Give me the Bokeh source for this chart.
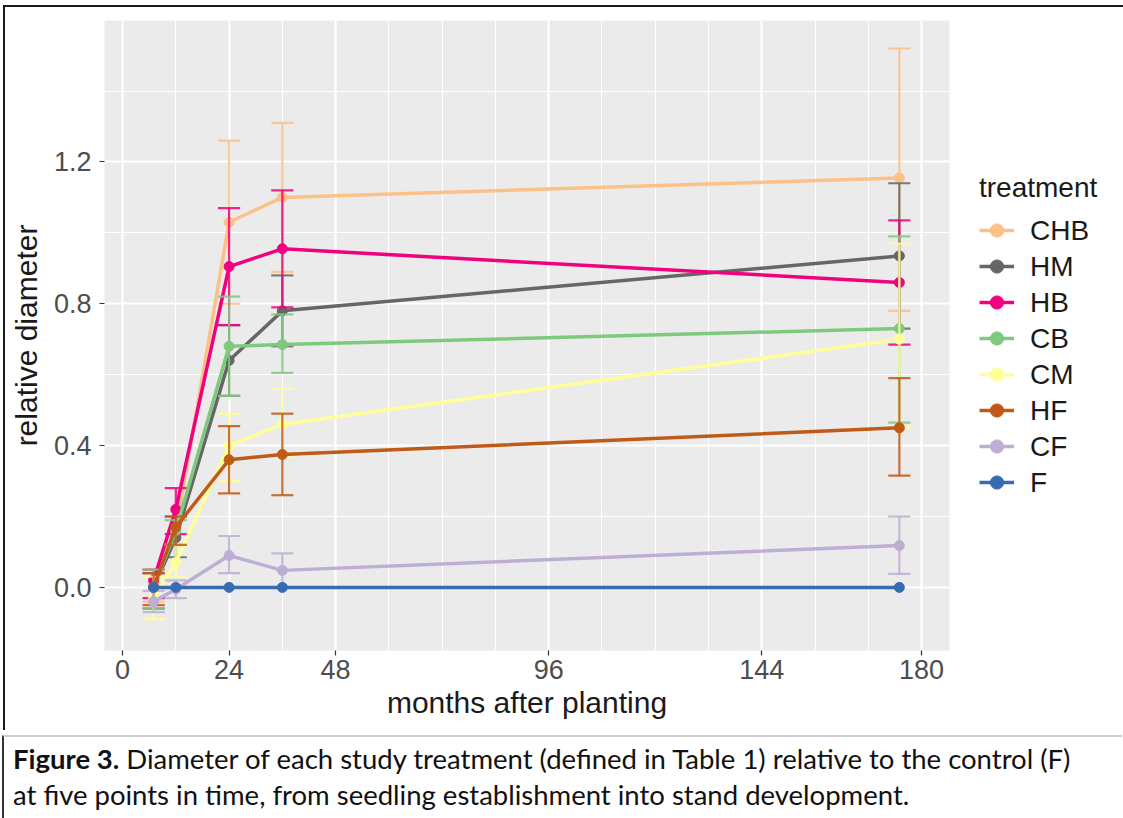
from bokeh.plotting import figure
from bokeh.models import (ColumnDataSource, FixedTicker, Legend, LegendItem, Div, Range1d)
from bokeh.layouts import column
from bokeh.embed import file_html
from bokeh.resources import INLINE

# ---------------- data ----------------
months = [7, 12, 24, 36, 175]
treatments = ["CHB", "HM", "HB", "CB", "CM", "HF", "CF", "F"]
colors = ["#FDC086", "#666666", "#F0027F", "#7FC97F", "#FFFF99", "#BF5B17", "#BEAED4", "#386CB0"]

CHB_mean = [0.01, 0.16, 1.03, 1.10, 1.155]
CHB_lo = [-0.04, 0.12, 0.80, 0.89, 0.78]
CHB_hi = [0.04, 0.20, 1.26, 1.31, 1.52]

HM_mean = [0.00, 0.14, 0.64, 0.78, 0.935]
HM_lo = [-0.06, 0.085, 0.54, 0.68, 0.73]
HM_hi = [0.04, 0.20, 0.74, 0.88, 1.14]

HB_mean = [0.02, 0.22, 0.905, 0.955, 0.86]
HB_lo = [-0.03, 0.15, 0.74, 0.79, 0.685]
HB_hi = [0.05, 0.28, 1.07, 1.12, 1.035]

CB_mean = [0.00, 0.16, 0.68, 0.685, 0.73]
CB_lo = [-0.06, 0.12, 0.54, 0.605, 0.465]
CB_hi = [0.05, 0.19, 0.82, 0.77, 0.99]

CM_mean = [-0.03, 0.07, 0.40, 0.46, 0.70]
CM_lo = [-0.09, 0.03, 0.30, 0.37, 0.45]
CM_hi = [0.03, 0.12, 0.49, 0.56, 0.97]

HF_mean = [0.00, 0.17, 0.36, 0.375, 0.45]
HF_lo = [-0.05, 0.12, 0.265, 0.26, 0.315]
HF_hi = [0.04, 0.20, 0.455, 0.49, 0.59]

CF_mean = [-0.04, -0.005, 0.09, 0.048, 0.118]
CF_lo = [-0.07, -0.03, 0.04, 0.0, 0.038]
CF_hi = [-0.01, 0.02, 0.145, 0.096, 0.20]

F_mean = [0.0, 0.0, 0.0, 0.0, 0.0]
F_lo = [0.0, 0.0, 0.0, 0.0, 0.0]
F_hi = [0.0, 0.0, 0.0, 0.0, 0.0]

x_ticks = [0, 24, 48, 96, 144, 180]
x_minor = [12, 36, 60, 72, 84, 108, 120, 132, 156, 168]
y_ticks = [0.0, 0.4, 0.8, 1.2]
y_minor = [0.2, 0.6, 1.0, 1.4]

series = {
    "CHB": (CHB_mean, CHB_lo, CHB_hi),
    "HM": (HM_mean, HM_lo, HM_hi),
    "HB": (HB_mean, HB_lo, HB_hi),
    "CB": (CB_mean, CB_lo, CB_hi),
    "CM": (CM_mean, CM_lo, CM_hi),
    "HF": (HF_mean, HF_lo, HF_hi),
    "CF": (CF_mean, CF_lo, CF_hi),
    "F": (F_mean, F_lo, F_hi),
}

FONT = "Liberation Sans"
CAP_HALF = 2.5  # half width of error-bar caps (months)

p = figure(frame_width=843, frame_height=628, output_backend="svg", toolbar_location=None,
           x_range=Range1d(-4.07, 186.3), y_range=Range1d(-0.178, 1.599),
           min_border_left=99, min_border_right=10, min_border_top=13, min_border_bottom=82)
p.background_fill_color = "#EBEBEB"
p.border_fill_color = "white"
p.outline_line_color = None

# grids
p.xgrid.ticker = FixedTicker(ticks=x_ticks, minor_ticks=x_minor)
p.ygrid.ticker = FixedTicker(ticks=y_ticks, minor_ticks=y_minor)
for g in (p.xgrid, p.ygrid):
    g.grid_line_color = "white"
    g.grid_line_width = 2.2
    g.minor_grid_line_color = "white"
    g.minor_grid_line_width = 1.1

# axes
p.xaxis.ticker = FixedTicker(ticks=x_ticks)
p.yaxis.ticker = FixedTicker(ticks=y_ticks)
p.yaxis.major_label_overrides = {0.0: "0.0", 0.4: "0.4", 0.8: "0.8", 1.2: "1.2"}
for ax in (p.xaxis, p.yaxis):
    ax.axis_line_color = None
    ax.major_tick_line_color = "#333333"
    ax.major_tick_line_width = 1.2
    ax.major_tick_out = 5
    ax.major_tick_in = 0
    ax.minor_tick_line_color = None
    ax.major_label_text_font = FONT
    ax.major_label_text_font_size = "27px"
    ax.major_label_text_color = "#4D4D4D"
    ax.axis_label_text_font = FONT
    ax.axis_label_text_font_size = "30px"
    ax.axis_label_text_font_style = "normal"
    ax.axis_label_text_color = "#1a1a1a"
p.xaxis.axis_label = "months after planting"
p.yaxis.axis_label = "relative diameter"
p.xaxis.major_label_standoff = 4
p.xaxis.axis_label_standoff = 4
p.yaxis.major_label_standoff = 8
p.yaxis.axis_label_standoff = 8

line_r = {}
pt_r = {}
for name, col in zip(treatments, colors):
    mean, lo, hi = series[name]
    src = ColumnDataSource(dict(x=months, y=mean, lo=lo, hi=hi,
                                xl=[m - CAP_HALF for m in months],
                                xr=[m + CAP_HALF for m in months]))
    line_r[name] = p.line("x", "y", source=src, line_color=col, line_width=3.5)
    pt_r[name] = p.scatter("x", "y", source=src, size=10, fill_color=col, line_color=col)
    if name != "F":
        p.segment("x", "lo", "x", "hi", source=src, line_color=col, line_width=2.2, line_alpha=0.85)
        p.segment("xl", "lo", "xr", "lo", source=src, line_color=col, line_width=2.2, line_alpha=0.85)
        p.segment("xl", "hi", "xr", "hi", source=src, line_color=col, line_width=2.2, line_alpha=0.85)

items = [LegendItem(label=n, renderers=[line_r[n], pt_r[n]]) for n in treatments]
legend = Legend(items=items, location="left", title="treatment",
                title_text_font=FONT, title_text_font_size="28px", title_text_color="#1a1a1a",
                title_text_font_style="normal", title_standoff=10,
                label_text_font=FONT, label_text_font_size="28px", label_text_color="#1a1a1a",
                glyph_width=35, glyph_height=33, label_height=33, spacing=3,
                label_standoff=16, margin=30, padding=5,
                border_line_color=None, background_fill_alpha=0)
p.add_layout(legend, "right")

p.styles = {"border-top": "2px solid #1a1a1a", "border-left": "2px solid #1a1a1a",
            "margin-top": "5px", "margin-left": "3px"}

caption = Div(text="<div style='margin-top:4px'><b>Figure 3.</b> Diameter of each study treatment (defined in Table 1) relative to the control (F)<br>"
                   "at five points in time, from seedling establishment into stand development.</div>",
              width=1120, height=86,
              styles={"font-family": "Lato, 'Open Sans', sans-serif", "font-size": "27.5px",
                      "line-height": "36px", "color": "#111", "white-space": "nowrap",
                      "border-top": "2px solid #cfcfcf", "border-left": "2px solid #333",
                      "padding-left": "9px", "padding-top": "0px", "margin-left": "2px",
                      "box-sizing": "border-box", "overflow": "visible"})

layout = column(p, caption, spacing=0)

open("out.html", "w").write(file_html(layout, INLINE))
